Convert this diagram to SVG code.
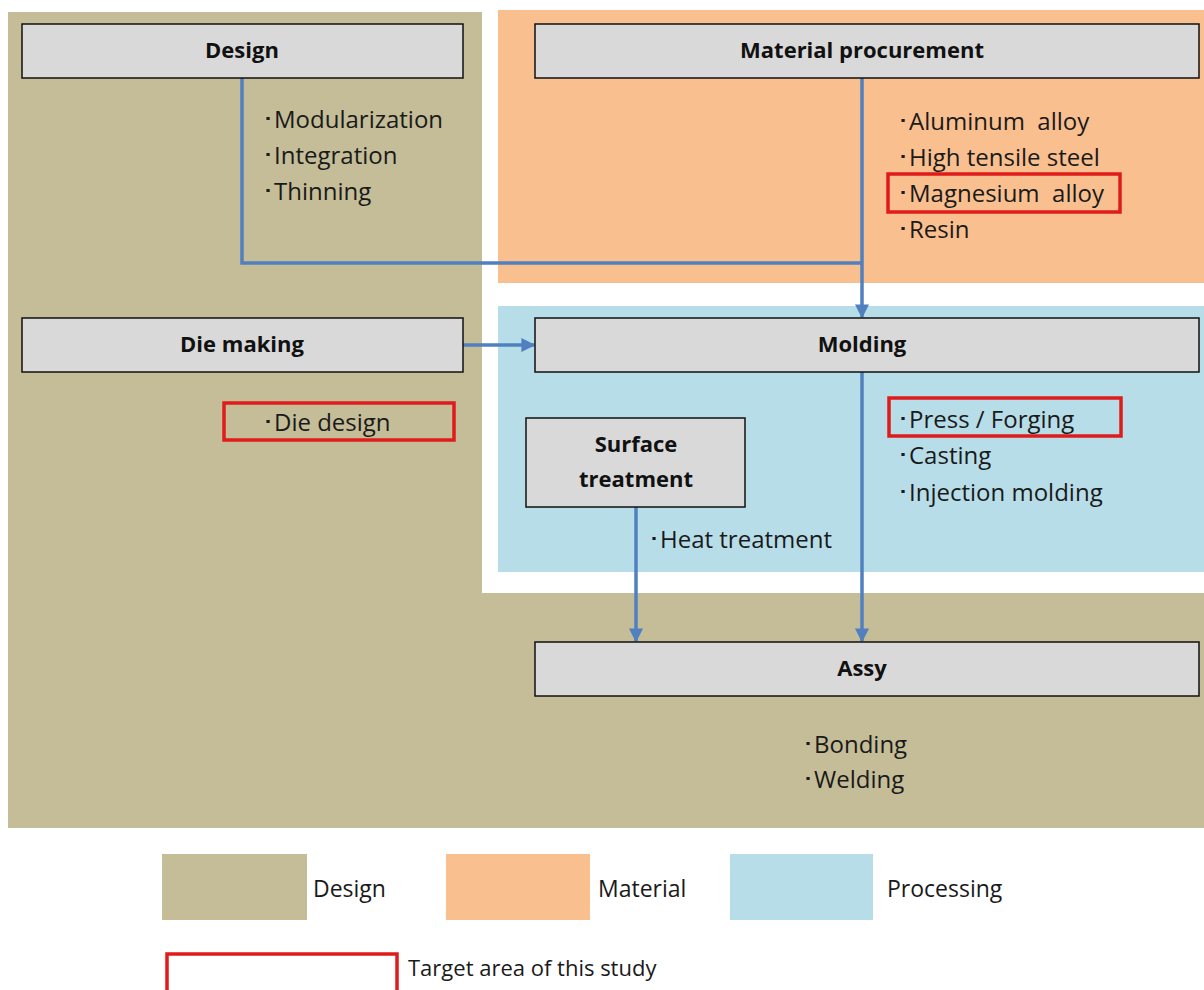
<svg xmlns="http://www.w3.org/2000/svg" width="1204" height="990" viewBox="0 0 1204 990">
<style>
.box{fill:#d9d9d9;stroke:#111;stroke-width:1.5}
.t{font-family:"Open Sans","Liberation Sans",sans-serif;font-weight:bold;font-size:22px;fill:#111;text-anchor:middle;white-space:pre}
.b{font-family:"Open Sans","Liberation Sans",sans-serif;font-size:24px;fill:#1a1a1a;white-space:pre}
.l{font-family:"Open Sans","Liberation Sans",sans-serif;font-size:23px;fill:#1a1a1a}
.red{fill:none;stroke:#e01b1b;stroke-width:3.5}
.c{fill:none;stroke:#5080bd;stroke-width:3.5}
</style>
<defs>
<marker id="ah" viewBox="0 0 10 10" refX="9" refY="5" markerWidth="4" markerHeight="4" orient="auto" markerUnits="strokeWidth">
<path d="M0,0 L10,5 L0,10 z" fill="#5080bd"/>
</marker>
</defs>
<rect width="1204" height="990" fill="#fff"/>
<g id="regions">
<rect x="8" y="12" width="1196" height="816" fill="#c4bd97"/>
<rect x="482" y="0" width="722" height="593" fill="#fff"/>
<rect x="498" y="10" width="706" height="273" fill="#f9bf8f"/>
<rect x="498" y="306" width="706" height="266" fill="#b7dde8"/>
</g>
<g id="connectors">
<polyline class="c" points="242,78 242,263 862,263"/>
<line class="c" x1="862" y1="78" x2="862" y2="317" marker-end="url(#ah)"/>
<line class="c" x1="463" y1="345" x2="534" y2="345" marker-end="url(#ah)"/>
<line class="c" x1="862" y1="372" x2="862" y2="641" marker-end="url(#ah)"/>
<line class="c" x1="636" y1="507" x2="636" y2="641" marker-end="url(#ah)"/>
</g>
<g id="design">
<rect class="box" x="22" y="24" width="441" height="54"/>
<text class="t" x="242" y="58">Design</text>
<text class="b" x="262" y="128">･Modularization</text>
<text class="b" x="262" y="164">･Integration</text>
<text class="b" x="262" y="200">･Thinning</text>
</g>
<g id="material">
<rect class="box" x="535" y="24" width="664" height="54"/>
<text class="t" x="862" y="58">Material procurement</text>
<text class="b" x="897" y="130">･Aluminum  alloy</text>
<text class="b" x="897" y="166">･High tensile steel</text>
<rect class="red" x="888" y="174" width="232" height="38"/>
<text class="b" x="897" y="202">･Magnesium  alloy</text>
<text class="b" x="897" y="238">･Resin</text>
</g>
<g id="die-making">
<rect class="box" x="22" y="318" width="441" height="54"/>
<text class="t" x="242" y="352">Die making</text>
<rect class="red" x="224" y="403" width="230" height="37"/>
<text class="b" x="262" y="431">･Die design</text>
</g>
<g id="molding">
<rect class="box" x="535" y="318" width="664" height="54"/>
<text class="t" x="862" y="352">Molding</text>
<rect class="red" x="889" y="398" width="232" height="38"/>
<text class="b" x="897" y="428">･Press / Forging</text>
<text class="b" x="897" y="464">･Casting</text>
<text class="b" x="897" y="501">･Injection molding</text>
</g>
<g id="surface-treatment">
<rect class="box" x="526" y="418" width="219" height="89"/>
<text class="t" x="636" y="452">Surface</text>
<text class="t" x="636" y="487">treatment</text>
<text class="b" x="648" y="548">･Heat treatment</text>
</g>
<g id="assy">
<rect class="box" x="535" y="642" width="664" height="54"/>
<text class="t" x="862" y="676">Assy</text>
<text class="b" x="802" y="753">･Bonding</text>
<text class="b" x="802" y="788">･Welding</text>
</g>
<g id="legend">
<rect x="162" y="854" width="145" height="66" fill="#c4bd97"/>
<text class="l" x="313" y="897">Design</text>
<rect x="446" y="854" width="144" height="66" fill="#f9bf8f"/>
<text class="l" x="598" y="897">Material</text>
<rect x="730" y="854" width="143" height="66" fill="#b7dde8"/>
<text class="l" x="887" y="897">Processing</text>
<rect class="red" x="167" y="954" width="230" height="40"/>
<text class="b" x="408" y="976" style="font-size:22px">Target area of this study</text>
</g>
</svg>
